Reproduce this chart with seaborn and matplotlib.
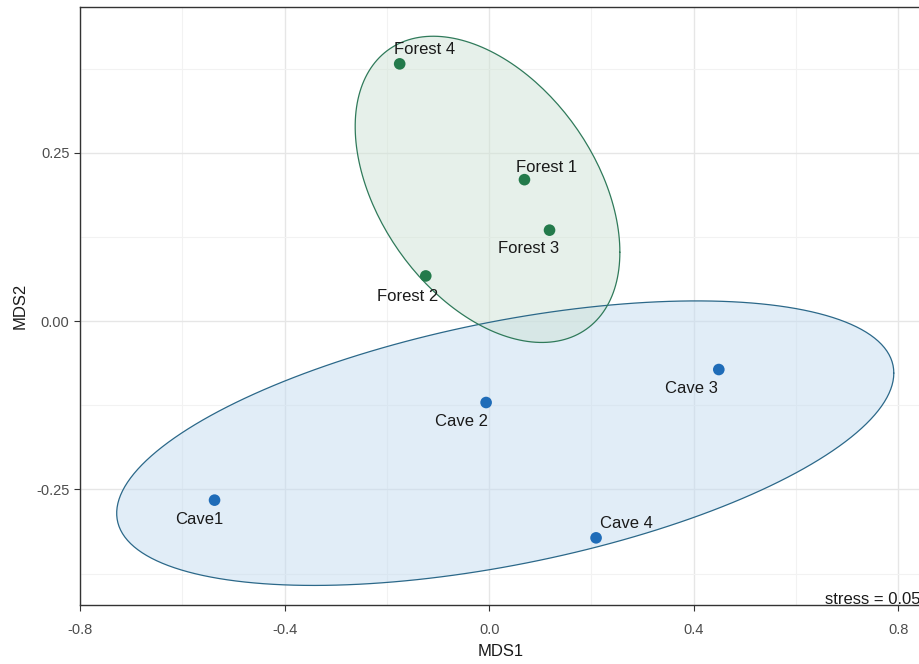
import numpy as np
import pandas as pd
import matplotlib
matplotlib.use("Agg")
import matplotlib.pyplot as plt
import seaborn as sns
from matplotlib.ticker import MultipleLocator

# NMDS scores
sites = ["Forest 1", "Forest 2", "Forest 3", "Forest 4",
         "Cave1", "Cave 2", "Cave 3", "Cave 4"]
habitat = ["Forest"] * 4 + ["Cave"] * 4
mds1 = [0.069, -0.124, 0.118, -0.175, -0.537, -0.006, 0.449, 0.209]
mds2 = [0.210, 0.067, 0.135, 0.382, -0.266, -0.121, -0.072, -0.322]
stress = 0.05

df = pd.DataFrame({"site": sites, "habitat": habitat, "MDS1": mds1, "MDS2": mds2})

point_col = {"Forest": "#237a4b", "Cave": "#1f6cb8"}
fill_col = {"Forest": "#cfe3d6", "Cave": "#c4dcf0"}
edge_col = {"Forest": "#2f7a5a", "Cave": "#2b6889"}

# label offsets in points (dx, dy)
label_off = {"Forest 1": (16, 9), "Forest 2": (-13, -15), "Forest 3": (-15, -13),
             "Forest 4": (18, 10), "Cave1": (-11, -14), "Cave 2": (-18, -14),
             "Cave 3": (-20, -14), "Cave 4": (22, 10)}

sns.set_style("white")
plt.rcParams["font.family"] = ["Liberation Sans", "DejaVu Sans"]

fig = plt.figure(figsize=(9.2, 6.64), dpi=100)
ax = fig.add_axes([0.087, 0.089, 0.915, 0.900])


def cov_trob(x, nu=5, maxit=25, tol=0.01):
    # multivariate t robust covariance, like MASS::cov.trob
    n, p = x.shape
    loc = x.mean(axis=0)
    w = np.ones(n)
    for _ in range(maxit):
        w0 = w
        X = x - loc
        _, d, vt = np.linalg.svd(np.sqrt(w / w.sum())[:, None] * X, full_matrices=False)
        wX = X @ vt.T / d
        Q = (wX ** 2).sum(axis=1)
        w = (nu + p) / (nu + Q)
        loc = (w[:, None] * x).sum(axis=0) / w.sum()
        if np.all(np.abs(w - w0) < tol):
            break
    cov = (np.sqrt(w)[:, None] * X).T @ (np.sqrt(w)[:, None] * X) / n
    return loc, cov


def ellipse_xy(x, y, level=0.75, n=200):
    pts = np.column_stack([x, y])
    c, cov = cov_trob(pts)
    dfd = len(x) - 1
    qf = dfd / 2 * ((1 - level) ** (-2 / dfd) - 1)   # F(2, dfd) quantile
    r = np.sqrt(2 * qf)
    L = np.linalg.cholesky(cov)
    t = np.linspace(0, 2 * np.pi, n)
    circ = np.column_stack([np.cos(t), np.sin(t)])
    e = c + r * circ @ L.T
    return e[:, 0], e[:, 1]


for h in ["Cave", "Forest"]:
    sub = df[df.habitat == h]
    ex, ey = ellipse_xy(sub.MDS1.values, sub.MDS2.values)
    ax.fill(ex, ey, color=fill_col[h], alpha=0.5, zorder=2, lw=0)
    ax.plot(ex, ey, color=edge_col[h], lw=0.9, zorder=3)

sns.scatterplot(data=df, x="MDS1", y="MDS2", hue="habitat", palette=point_col,
                s=70, edgecolor="none", legend=False, ax=ax, zorder=4)

for _, r in df.iterrows():
    dx, dy = label_off[r.site]
    ax.annotate(r.site, (r.MDS1, r.MDS2), xytext=(dx, dy), textcoords="offset points",
                ha="center", va="center", fontsize=12, color="#1a1a1a", zorder=5)

ax.text(0.999, -0.004, f"stress = {stress:.2f}", transform=ax.transAxes,
        ha="right", va="bottom", fontsize=12, color="#1a1a1a")

ax.set_xlim(-0.8, 0.846)
ax.set_ylim(-0.4216, 0.466)
ax.xaxis.set_major_locator(MultipleLocator(0.4))
ax.xaxis.set_minor_locator(MultipleLocator(0.2))
ax.yaxis.set_major_locator(MultipleLocator(0.25))
ax.yaxis.set_minor_locator(MultipleLocator(0.125))
ax.set_xticklabels([f"{v:.1f}" for v in ax.get_xticks()])
ax.set_yticklabels([f"{v:.2f}" for v in ax.get_yticks()])
ax.grid(which="major", color="#e6e6e6", lw=1.0, zorder=0)
ax.grid(which="minor", color="#f2f2f2", lw=0.8, zorder=0)
ax.set_axisbelow(True)
ax.tick_params(which="major", length=4, width=0.8, color="#333333",
               labelsize=10.5, labelcolor="#4d4d4d", bottom=True, left=True)
ax.tick_params(axis="x", which="major", pad=9)
ax.tick_params(which="minor", length=0)
for side in ["left", "bottom", "top"]:
    ax.spines[side].set_color("#333333")
    ax.spines[side].set_linewidth(1.0)
ax.spines["right"].set_visible(False)
ax.set_xlabel("MDS1", fontsize=12, color="#1a1a1a", labelpad=5)
ax.set_ylabel("MDS2", fontsize=12, color="#1a1a1a", labelpad=6)

fig.savefig("out.png", dpi=100)
